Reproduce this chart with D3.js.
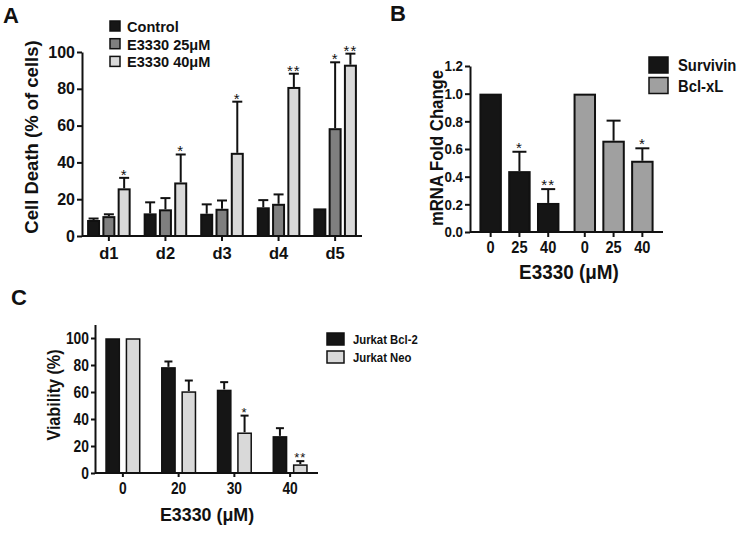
<!DOCTYPE html>
<html>
<head>
<meta charset="utf-8">
<script src="https://cdn.jsdelivr.net/npm/d3@7"></script>
<style>
html,body{margin:0;padding:0;background:#fff;}
svg{display:block;}
text{font-family:"Liberation Sans",Arial,Helvetica,sans-serif;font-weight:bold;fill:#111;}
</style>
</head>
<body>
<script>
// ---------- Panel A data ----------
const aDays = ['d1','d2','d3','d4','d5'];
const aSeries = ['Control','E3330 25\u03bcM','E3330 40\u03bcM'];
const aControl = [8.7, 12.3, 12.1, 15.6, 15.0];
const aControlErr = [0.8, 6.0, 5.1, 3.9, 0];
const aE25 = [10.8, 14.5, 14.8, 17.5, 58.6];
const aE25Err = [1.0, 6.1, 4.5, 5.1, 35.8];
const aE40 = [25.9, 29.1, 45.2, 81.0, 93.1];
const aE40Err = [5.7, 15.2, 27.8, 7.2, 6.0];
const aE25Sig = ['', '', '', '', '*'];
const aE40Sig = ['*', '*', '*', '**', '**'];
const aTicks = [0, 20, 40, 60, 80, 100];

// ---------- Panel B data ----------
const bGenes = ['Survivin', 'Bcl-xL'];
const bDoses = ['0', '25', '40'];
const bSurvivin = [1.0, 0.44, 0.21];
const bSurvivinErr = [0, 0.14, 0.10];
const bBclxl = [1.0, 0.66, 0.515];
const bBclxlErr = [0, 0.145, 0.09];
const bSurvivinSig = ['', '*', '**'];
const bBclxlSig = ['', '', '*'];
const bTicks = [0, 0.2, 0.4, 0.6, 0.8, 1.0, 1.2];

// ---------- Panel C data ----------
const cDoses = ['0', '20', '30', '40'];
const cLines = ['Jurkat Bcl-2', 'Jurkat Neo'];
const cBcl2 = [100, 78.6, 61.9, 27.5];
const cBcl2Err = [0, 4.0, 5.4, 5.7];
const cNeo = [100, 60.7, 30.2, 6.6];
const cNeoErr = [0, 7.8, 12.3, 2.2];
const cNeoSig = ['', '', '*', '**'];
const cTicks = [0, 20, 40, 60, 80, 100];

const W = 752, H = 539;
const svg = d3.select('body').append('svg').attr('width', W).attr('height', H);

// horizontally condense text (the original uses a narrow face)
function squeeze(sel, k) {
  sel.each(function () {
    const t = d3.select(this);
    const x = +(t.attr('x') || 0);
    t.attr('x', x / k).attr('transform', (t.attr('transform') || '') + ` scale(${k},1)`);
  });
  return sel;
}

function styleAxis(g) {
  g.selectAll('path.domain').attr('stroke', '#111').attr('stroke-width', 2);
  g.selectAll('.tick line').attr('stroke', '#111').attr('stroke-width', 2);
  g.selectAll('.tick text').attr('fill', '#111').style('font-weight', 'bold');
}

function drawBars(g, data, y, opts) {
  data.forEach(d => {
    g.append('rect')
      .attr('x', d.x + 1).attr('y', y(d.v) + 1)
      .attr('width', d.w - 2).attr('height', Math.max(0, y(0) - y(d.v) - 1))
      .attr('fill', d.fill).attr('stroke', '#111').attr('stroke-width', opts.sw);
    const cx = d.x + d.w / 2;
    let top = y(d.v);
    if (d.e > 0) {
      top = y(d.v + d.e);
      g.append('line').attr('x1', cx).attr('x2', cx).attr('y1', y(d.v)).attr('y2', top)
        .attr('stroke', '#111').attr('stroke-width', 2);
      g.append('line').attr('x1', cx - opts.cap).attr('x2', cx + opts.cap).attr('y1', top).attr('y2', top)
        .attr('stroke', '#111').attr('stroke-width', 2);
    }
    if (d.sig) {
      g.append('text').attr('x', cx).attr('y', top + opts.starDy)
        .attr('text-anchor', 'middle')
        .style('font-weight', 'normal').style('font-size', opts.starSize + 'px')
        .style('letter-spacing', '1px')
        .attr('fill', '#555').text(d.sig);
    }
  });
}

// ================= Panel A =================
{
  const g = svg.append('g');
  const y = d3.scaleLinear().domain([0, 100]).range([236, 52]);
  const x0 = d3.scaleBand().domain(aDays).range([82, 362]).paddingInner(0.23).paddingOuter(0.09);
  const x1 = d3.scaleBand().domain(aSeries).range([0, x0.bandwidth()]).paddingInner(0.15);
  const fills = ['#161616', '#7f7f7f', '#d9d9d9'];
  const vals = [aControl, aE25, aE40], errs = [aControlErr, aE25Err, aE40Err];
  const sigs = [aDays.map(() => ''), aE25Sig, aE40Sig];
  const bars = [];
  aDays.forEach((d, i) => aSeries.forEach((s, j) => {
    bars.push({x: x0(d) + x1(s), w: x1.bandwidth(), v: vals[j][i], e: errs[j][i], sig: sigs[j][i], fill: fills[j]});
  }));
  drawBars(g, bars, y, {sw: 2, cap: 5, starDy: 2, starSize: 15});

  const ya = g.append('g').attr('transform', 'translate(82,0)')
    .call(d3.axisLeft(y).tickValues(aTicks).tickSize(5).tickSizeOuter(0).tickPadding(2));
  ya.selectAll('.tick text').style('font-size', '16px');
  styleAxis(ya);
  const xa = g.append('g').attr('transform', 'translate(0,236)')
    .call(d3.axisBottom(x0).tickSize(5).tickSizeOuter(0).tickPadding(6));
  xa.selectAll('.tick text').style('font-size', '16.5px');
  xa.select('path.domain').attr('d', 'M82,0H362');
  styleAxis(xa);

  g.append('text').attr('transform', 'translate(38,137) rotate(-90)').attr('text-anchor', 'middle')
    .style('font-size', '18.5px').text('Cell Death (% of cells)');
  g.append('text').attr('x', 3).attr('y', 23).style('font-size', '22px').text('A');

  aSeries.forEach((s, i) => {
    g.append('rect').attr('x', 110).attr('y', 21 + i * 17.7).attr('width', 10).attr('height', 10)
      .attr('fill', fills[i]).attr('stroke', '#111').attr('stroke-width', 1.5);
    squeeze(g.append('text').attr('x', 127).attr('y', 32 + i * 17.7).style('font-size', '15.5px').text(s), 0.94);
  });
}

// ================= Panel B =================
{
  const g = svg.append('g');
  const y = d3.scaleLinear().domain([0, 1.2]).range([232, 66]);
  const x0 = d3.scaleBand().domain(bGenes).range([470, 663]).paddingInner(0.15).paddingOuter(0.1);
  const x1 = d3.scaleBand().domain(bDoses).range([0, x0.bandwidth()]).paddingInner(0.22);
  const fills = ['#151515', '#a0a0a0'];
  const vals = [bSurvivin, bBclxl], errs = [bSurvivinErr, bBclxlErr], sigs = [bSurvivinSig, bBclxlSig];
  const bars = [];
  bGenes.forEach((gname, i) => bDoses.forEach((dose, j) => {
    bars.push({x: x0(gname) + x1(dose), w: x1.bandwidth(), v: vals[i][j], e: errs[i][j], sig: sigs[i][j], fill: fills[i]});
  }));
  drawBars(g, bars, y, {sw: 2, cap: 7, starDy: 1, starSize: 15});

  const ya = g.append('g').attr('transform', 'translate(470,0)')
    .call(d3.axisLeft(y).tickValues(bTicks).tickFormat(d3.format('.1f')).tickSize(5).tickSizeOuter(0).tickPadding(2));
  ya.selectAll('.tick text').style('font-size', '15.5px');
  styleAxis(ya);
  squeeze(ya.selectAll('.tick text'), 0.86);

  const xa = g.append('g').attr('transform', 'translate(0,232)');
  xa.append('path').attr('d', 'M470,0H663').attr('stroke', '#111').attr('stroke-width', 2);
  bGenes.forEach(gname => bDoses.forEach(dose => {
    const cx = x0(gname) + x1(dose) + x1.bandwidth() / 2;
    xa.append('line').attr('x1', cx).attr('x2', cx).attr('y1', 0).attr('y2', 5).attr('stroke', '#111').attr('stroke-width', 2);
    squeeze(xa.append('text').attr('x', cx).attr('y', 21).attr('text-anchor', 'middle').style('font-size', '17px').text(dose), 0.86);
  }));

  squeeze(g.append('text').attr('transform', 'translate(443,148) rotate(-90)').attr('text-anchor', 'middle')
    .style('font-size', '19px').text('mRNA Fold Change'), 0.88);
  squeeze(g.append('text').attr('x', 569).attr('y', 279).attr('text-anchor', 'middle')
    .style('font-size', '21px').text('E3330 (\u03bcM)'), 0.9);
  g.append('text').attr('x', 390).attr('y', 21).style('font-size', '22px').text('B');

  bGenes.forEach((s, i) => {
    g.append('rect').attr('x', 649).attr('y', 57 + i * 20.5).attr('width', 19).attr('height', 16)
      .attr('fill', fills[i]).attr('stroke', '#111').attr('stroke-width', 1.5);
    squeeze(g.append('text').attr('x', 678).attr('y', 71.5 + i * 20.5).style('font-size', '17px').text(s), 0.87);
  });
}

// ================= Panel C =================
{
  const g = svg.append('g');
  const y = d3.scaleLinear().domain([0, 110]).range([473, 324.5]);
  const x0 = d3.scaleBand().domain(cDoses).range([95, 318]).paddingInner(0.36).paddingOuter(0.18);
  const x1 = d3.scaleBand().domain(cLines).range([0, x0.bandwidth()]).paddingInner(0.25);
  const fills = ['#151515', '#d9d9d9'];
  const vals = [cBcl2, cNeo], errs = [cBcl2Err, cNeoErr], sigs = [cDoses.map(() => ''), cNeoSig];
  const bars = [];
  cDoses.forEach((dose, i) => cLines.forEach((l, j) => {
    bars.push({x: x0(dose) + x1(l), w: x1.bandwidth(), v: vals[j][i], e: errs[j][i], sig: sigs[j][i], fill: fills[j]});
  }));
  drawBars(g, bars, y, {sw: 1.5, cap: 4, starDy: 1, starSize: 13});

  const ya = g.append('g').attr('transform', 'translate(95,0)')
    .call(d3.axisLeft(y).tickValues(cTicks).tickSize(4).tickSizeOuter(0).tickPadding(2));
  ya.selectAll('.tick text').style('font-size', '16.5px');
  styleAxis(ya);
  squeeze(ya.selectAll('.tick text'), 0.84);
  const xa = g.append('g').attr('transform', 'translate(0,473)')
    .call(d3.axisBottom(x0).tickSize(4).tickSizeOuter(0).tickPadding(5));
  xa.selectAll('.tick text').style('font-size', '16.5px');
  xa.select('path.domain').attr('d', 'M95,0H318');
  styleAxis(xa);
  squeeze(xa.selectAll('.tick text'), 0.84);

  squeeze(g.append('text').attr('transform', 'translate(60,395) rotate(-90)').attr('text-anchor', 'middle')
    .style('font-size', '19px').text('Viability (%)'), 0.85);
  squeeze(g.append('text').attr('x', 207).attr('y', 521).attr('text-anchor', 'middle')
    .style('font-size', '19px').text('E3330 (\u03bcM)'), 0.94);
  g.append('text').attr('x', 11).attr('y', 305).style('font-size', '22px').text('C');

  cLines.forEach((s, i) => {
    g.append('rect').attr('x', 327).attr('y', 333 + i * 18).attr('width', 17).attr('height', 12)
      .attr('fill', fills[i]).attr('stroke', '#111').attr('stroke-width', 1.5);
    squeeze(g.append('text').attr('x', 353).attr('y', 344 + i * 18).style('font-size', '13px').text(s), 0.87);
  });
}
</script>
</body>
</html>
